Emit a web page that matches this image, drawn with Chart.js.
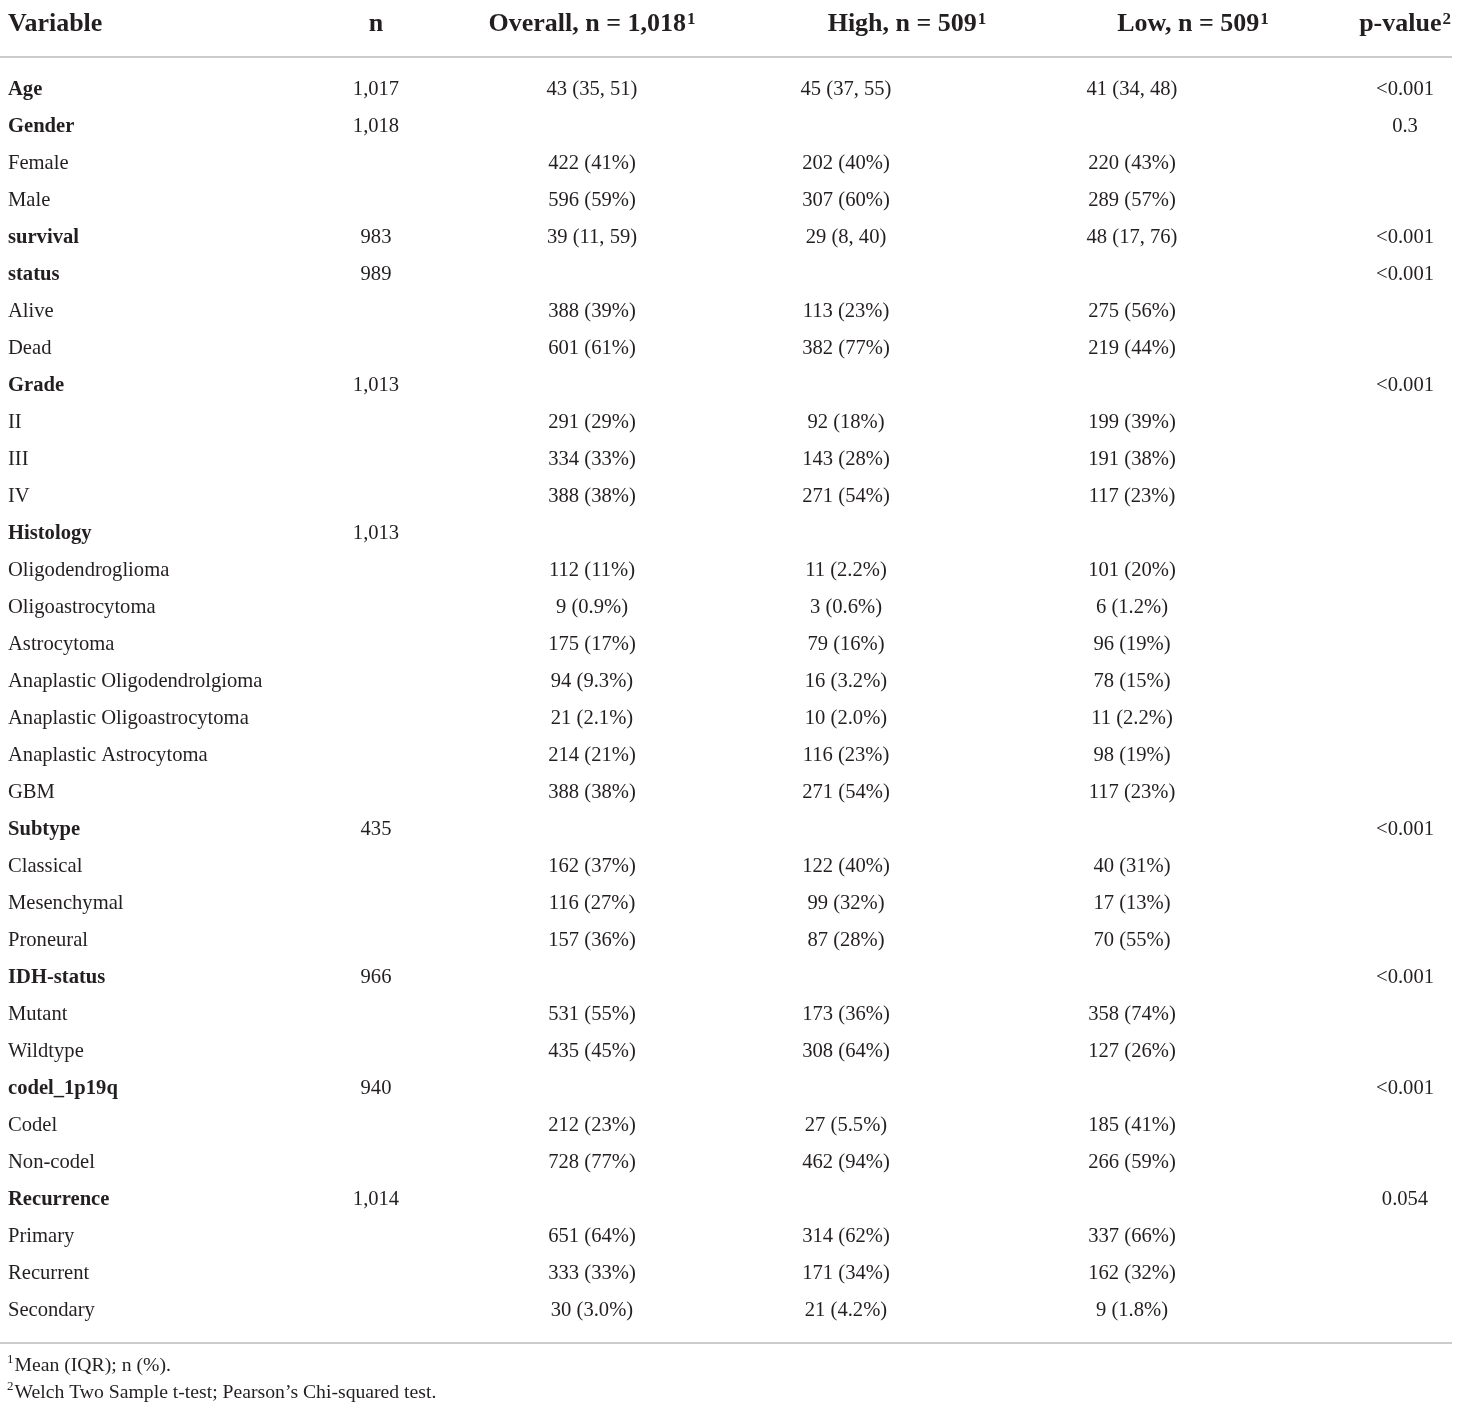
<!DOCTYPE html>
<html>
<head>
<meta charset="utf-8">
<script src="https://cdn.jsdelivr.net/npm/chart.js@4.4.1/dist/chart.umd.min.js"></script>
<style>
  body { margin: 0; background: #fff; }
  canvas { display: block; }
</style>
</head>
<body>
<canvas id="myChart" width="1460" height="1410"></canvas>
<script>
// table content, one array per column
const variables = [
  'Age', 'Gender', 'Female', 'Male', 'survival', 'status', 'Alive', 'Dead',
  'Grade', 'II', 'III', 'IV', 'Histology', 'Oligodendroglioma', 'Oligoastrocytoma',
  'Astrocytoma', 'Anaplastic Oligodendrolgioma', 'Anaplastic Oligoastrocytoma',
  'Anaplastic Astrocytoma', 'GBM', 'Subtype', 'Classical', 'Mesenchymal', 'Proneural',
  'IDH-status', 'Mutant', 'Wildtype', 'codel_1p19q', 'Codel', 'Non-codel',
  'Recurrence', 'Primary', 'Recurrent', 'Secondary'
];
const isHeading = [
  1, 1, 0, 0, 1, 1, 0, 0,
  1, 0, 0, 0, 1, 0, 0,
  0, 0, 0,
  0, 0, 1, 0, 0, 0,
  1, 0, 0, 1, 0, 0,
  1, 0, 0, 0
];
const nValues = [
  '1,017', '1,018', '', '', '983', '989', '', '',
  '1,013', '', '', '', '1,013', '', '',
  '', '', '',
  '', '', '435', '', '', '',
  '966', '', '', '940', '', '',
  '1,014', '', '', ''
];
const overall = [
  '43 (35, 51)', '', '422 (41%)', '596 (59%)', '39 (11, 59)', '', '388 (39%)', '601 (61%)',
  '', '291 (29%)', '334 (33%)', '388 (38%)', '', '112 (11%)', '9 (0.9%)',
  '175 (17%)', '94 (9.3%)', '21 (2.1%)',
  '214 (21%)', '388 (38%)', '', '162 (37%)', '116 (27%)', '157 (36%)',
  '', '531 (55%)', '435 (45%)', '', '212 (23%)', '728 (77%)',
  '', '651 (64%)', '333 (33%)', '30 (3.0%)'
];
const high = [
  '45 (37, 55)', '', '202 (40%)', '307 (60%)', '29 (8, 40)', '', '113 (23%)', '382 (77%)',
  '', '92 (18%)', '143 (28%)', '271 (54%)', '', '11 (2.2%)', '3 (0.6%)',
  '79 (16%)', '16 (3.2%)', '10 (2.0%)',
  '116 (23%)', '271 (54%)', '', '122 (40%)', '99 (32%)', '87 (28%)',
  '', '173 (36%)', '308 (64%)', '', '27 (5.5%)', '462 (94%)',
  '', '314 (62%)', '171 (34%)', '21 (4.2%)'
];
const low = [
  '41 (34, 48)', '', '220 (43%)', '289 (57%)', '48 (17, 76)', '', '275 (56%)', '219 (44%)',
  '', '199 (39%)', '191 (38%)', '117 (23%)', '', '101 (20%)', '6 (1.2%)',
  '96 (19%)', '78 (15%)', '11 (2.2%)',
  '98 (19%)', '117 (23%)', '', '40 (31%)', '17 (13%)', '70 (55%)',
  '', '358 (74%)', '127 (26%)', '', '185 (41%)', '266 (59%)',
  '', '337 (66%)', '162 (32%)', '9 (1.8%)'
];
const pValues = [
  '<0.001', '0.3', '', '', '<0.001', '<0.001', '', '',
  '<0.001', '', '', '', '', '', '',
  '', '', '',
  '', '', '<0.001', '', '', '',
  '<0.001', '', '', '<0.001', '', '',
  '0.054', '', '', ''
];
const headers = ['Variable', 'n', 'Overall, n = 1,018', 'High, n = 509', 'Low, n = 509', 'p-value'];
const headerSup = ['', '', '1', '1', '1', '2'];
const footnotes = ['Mean (IQR); n (%).', 'Welch Two Sample t-test; Pearson\u2019s Chi-squared test.'];
const footnoteSup = ['1', '2'];

// layout (x in page pixels, y in row units)
const colX = [8, 376, 592, 846, 1132, 1405];
const colAlign = ['left', 'center', 'center', 'center', 'center', 'center'];
const headerX = [8, 376, 592, 907, 1193, 1451];
const headerAlign = ['left', 'center', 'center', 'center', 'center', 'right'];
const headerRow = -1.784, topRule = -0.84, bottomRule = 33.92;
const footRows = [34.5, 35.24];

const serif = '"Liberation Serif", "DejaVu Serif", serif';
const ink = '#231f20';

function textWithSup(ctx, txt, sup, x, y, align, font, supFont, rise) {
  ctx.font = font;
  const w = ctx.measureText(txt).width;
  ctx.font = supFont;
  const ws = sup ? ctx.measureText(sup).width + 1 : 0;
  let left = x;
  if (align === 'center') left = x - (w + ws) / 2;
  else if (align === 'right') left = x - w - ws;
  ctx.textAlign = 'left';
  ctx.font = font;
  ctx.fillText(txt, left, y);
  if (sup) {
    ctx.font = supFont;
    ctx.fillText(sup, left + w + 1, y - rise);
  }
}

const tablePlugin = {
  id: 'tablePlugin',
  afterDraw(chart) {
    const ctx = chart.ctx;
    const xs = chart.scales.x, ys = chart.scales.y;
    ctx.save();
    ctx.fillStyle = ink;
    ctx.textBaseline = 'alphabetic';

    // header
    const hy = ys.getPixelForValue(headerRow) + 9;
    headers.forEach(function(h, c) {
      textWithSup(ctx, h, headerSup[c], xs.getPixelForValue(headerX[c]), hy, headerAlign[c],
        'bold 26px ' + serif, 'bold 17px ' + serif, 7);
    });

    // rules
    ctx.strokeStyle = '#cccccc';
    ctx.lineWidth = 2;
    [topRule, bottomRule].forEach(function(r) {
      const py = ys.getPixelForValue(r);
      ctx.beginPath();
      ctx.moveTo(xs.getPixelForValue(0), py);
      ctx.lineTo(xs.getPixelForValue(1452), py);
      ctx.stroke();
    });

    // body
    const cols = [variables, nValues, overall, high, low, pValues];
    variables.forEach(function(v, i) {
      const py = ys.getPixelForValue(i) + 6.5;
      cols.forEach(function(col, c) {
        if (!col[i]) return;
        ctx.font = (c === 0 && isHeading[i] ? 'bold ' : '') + '20.6px ' + serif;
        ctx.textAlign = colAlign[c];
        ctx.fillText(col[i], xs.getPixelForValue(colX[c]), py);
      });
    });

    // footnotes
    footnotes.forEach(function(f, k) {
      const py = ys.getPixelForValue(footRows[k]) + 6;
      ctx.font = '13px ' + serif;
      const ws = ctx.measureText(footnoteSup[k]).width;
      ctx.textAlign = 'left';
      ctx.fillText(footnoteSup[k], xs.getPixelForValue(7), py - 8);
      ctx.font = '19.7px ' + serif;
      ctx.fillText(f, xs.getPixelForValue(7) + ws + 1, py);
    });
    ctx.restore();
  }
};

document.addEventListener('DOMContentLoaded', function() {
  const points = variables.map(function(v, i) { return { x: colX[0], y: i }; });
  new Chart(document.getElementById('myChart'), {
    type: 'scatter',
    data: {
      datasets: [{ label: 'rows', data: points, pointRadius: 0, pointHoverRadius: 0 }]
    },
    options: {
      responsive: false,
      animation: false,
      devicePixelRatio: 1,
      layout: { padding: 0 },
      plugins: { legend: { display: false }, tooltip: { enabled: false } },
      events: [],
      scales: {
        x: { type: 'linear', display: false, min: 0, max: 1460 },
        y: { type: 'linear', display: false, reverse: true, min: -88 / 37, max: (1410 - 88) / 37 }
      }
    },
    plugins: [tablePlugin]
  });
});
</script>
</body>
</html>
